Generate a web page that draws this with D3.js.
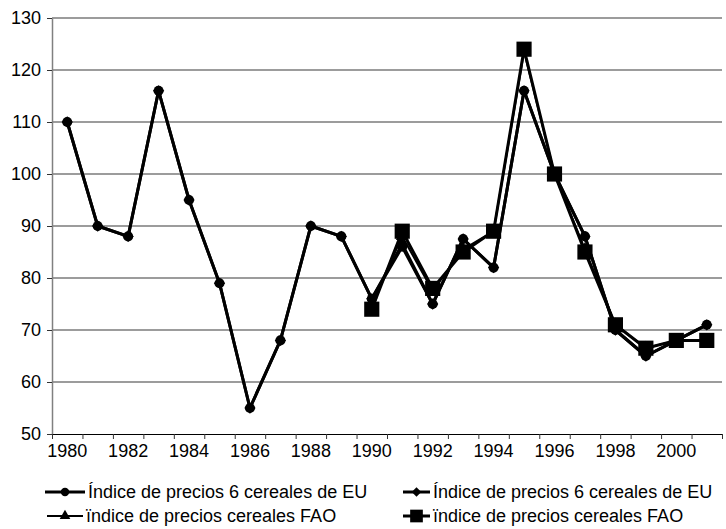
<!DOCTYPE html>
<html>
<head>
<meta charset="utf-8">
<script src="https://cdn.jsdelivr.net/npm/d3@7"></script>
<style>
  body { margin: 0; background: #fff; }
  svg { font-family: "Liberation Sans", Arial, sans-serif; }
</style>
</head>
<body>
<svg id="chart" width="726" height="529"></svg>
<script>
"use strict"

const years = d3.range(1980, 2002)
const yTicks = [50, 60, 70, 80, 90, 100, 110, 120, 130]

// EU price index, 6 cereals (two copies of the series in the source sheet)
const euCircle = [110, 90, 88, 116, 95, 79, 55, 68, 90, 88, 76, 86, 75, 87.5, 82, 116, 100, 88, 70, 65, 68, 71]
const euDiamond = [110, 90, 88, 116, 95, 79, 55, 68, 90, 88, 76, 86.5, 75, 87.5, 82, 116, 100, 88, 70, 65, 68, 71]
// FAO cereal price index, from 1990
const faoTriangle = [null, null, null, null, null, null, null, null, null, null, 75, 88, 77.5, 85.5, 89, 123.5, 100, 85.5, 71, 66.5, 68, 68]
const faoSquare = [null, null, null, null, null, null, null, null, null, null, 74, 89, 78, 85, 89, 124, 100, 85, 71, 66.5, 68, 68]

const labels = [
    "Índice de precios 6 cereales de EU",
    "Índice de precios 6 cereales de EU",
    "ïndice de precios cereales FAO",
    "ïndice de precios cereales FAO"
]

const series = [
    {values: euCircle, symbol: d3.symbolCircle, size: 80, width: 3, rot: 0},
    {values: euDiamond, symbol: d3.symbolSquare, size: 64, width: 3, rot: 45},
    {values: faoTriangle, symbol: d3.symbolTriangle, size: 70, width: 2, rot: 0},
    {values: faoSquare, symbol: d3.symbolSquare, size: 230, width: 3, rot: 0}
]

const svg = d3.select("#chart")
const plotL = 52, plotR = 722, plotT = 18, plotB = 434

let x = d3.scaleBand().domain(years).range([plotL, plotR])
let xEdge = d3.scaleLinear().domain([0, years.length]).range([plotL, plotR])
let y = d3.scaleLinear().domain([50, 130]).range([plotB, plotT])
let cx = d => x(d) + x.bandwidth() / 2

// horizontal gridlines
svg.append("g")
    .selectAll("line")
    .data(yTicks.slice(1))
    .enter().append("line")
    .attr("x1", plotL).attr("x2", plotR)
    .attr("y1", d => y(d)).attr("y2", d => y(d))
    .attr("stroke", "#3a3a3a")
    .attr("stroke-width", 1.2)

// y axis
let gy = svg.append("g")
    .attr("transform", "translate(" + plotL + ",0)")
    .call(d3.axisLeft(y).tickValues(yTicks).tickSize(5).tickSizeOuter(0).tickPadding(6))
gy.select(".domain").attr("stroke", "#808080").attr("stroke-width", 1.5)
gy.selectAll(".tick line").attr("stroke", "#333")
gy.selectAll("text").attr("font-size", 18).attr("fill", "#000").attr("font-family", null)

// x axis: tick marks on category boundaries
let gx = svg.append("g")
    .attr("transform", "translate(0," + plotB + ")")
    .call(d3.axisBottom(xEdge).tickValues(d3.range(years.length + 1)).tickSize(5).tickSizeOuter(0).tickFormat(""))
gx.select(".domain").attr("stroke", "#000").attr("stroke-width", 1.2)
gx.selectAll(".tick line").attr("stroke", "#333")

// x labels every other year, centred on categories
let gxl = svg.append("g")
    .attr("transform", "translate(0," + plotB + ")")
    .call(d3.axisBottom(x).tickValues(years.filter(d => d % 2 === 0)).tickSize(0).tickPadding(10))
gxl.select(".domain").remove()
gxl.selectAll("text").attr("font-size", 18).attr("fill", "#000").attr("font-family", null)

// series lines and markers
let line = d3.line()
    .defined(d => d[1] != null)
    .x(d => cx(d[0]))
    .y(d => y(d[1]))

series.forEach(s => {
    let pts = years.map((yr, i) => [yr, s.values[i]])
    svg.append("path")
        .datum(pts)
        .attr("fill", "none")
        .attr("stroke", "#000")
        .attr("stroke-width", s.width)
        .attr("stroke-linejoin", "round")
        .attr("d", line)
    svg.append("g")
        .selectAll("path")
        .data(pts.filter(d => d[1] != null))
        .enter().append("path")
        .attr("transform", d => "translate(" + cx(d[0]) + "," + y(d[1]) + ") rotate(" + s.rot + ")")
        .attr("d", d3.symbol().type(s.symbol).size(s.size))
        .attr("fill", "#000")
})

// legend, two columns by two rows
const legendPos = [[45, 85, 492], [403, 430, 492], [47, 83, 516], [403, 430, 516]]
let lg = svg.append("g")
series.forEach((s, i) => {
    let [x0, x1, ly] = legendPos[i]
    lg.append("line")
        .attr("x1", x0).attr("x2", x1)
        .attr("y1", ly).attr("y2", ly)
        .attr("stroke", "#000")
        .attr("stroke-width", s.width)
    lg.append("path")
        .attr("transform", "translate(" + (x0 + x1) / 2 + "," + ly + ") rotate(" + s.rot + ")")
        .attr("d", d3.symbol().type(s.symbol).size(s.size * 0.7))
        .attr("fill", "#000")
    lg.append("text")
        .attr("x", x1 + 3)
        .attr("y", ly)
        .attr("dy", "0.35em")
        .attr("font-size", 18)
        .text(labels[i])
})
</script>
</body>
</html>
